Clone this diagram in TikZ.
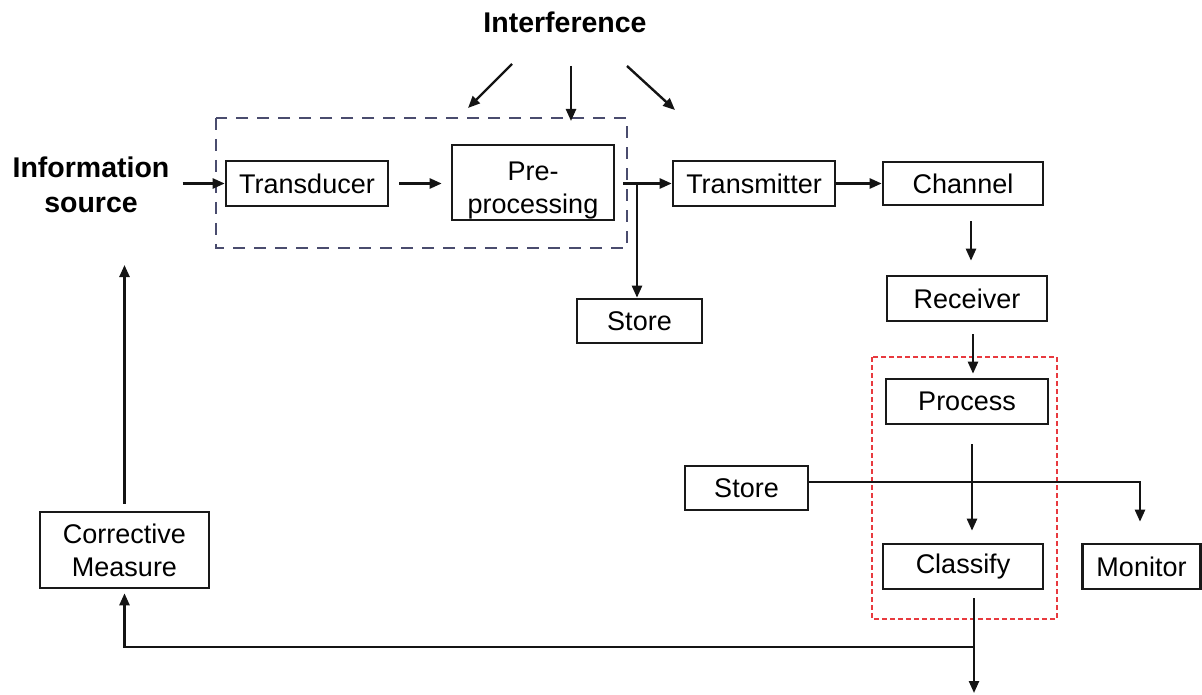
\documentclass[tikz,border=0pt]{standalone}
\usepackage{fontspec}
\setmainfont{Liberation Sans}
\usetikzlibrary{arrows.meta}
\definecolor{groupblue}{HTML}{4A4C6E}
\definecolor{groupred}{HTML}{E83A3F}
\begin{document}
\begin{tikzpicture}[x=1pt,y=-1pt,
  box/.style={draw=black!90, line width=2.6pt, fill=white, inner sep=0pt,
    align=center, font=\fontsize{27}{33}\selectfont, text=black},
  lbl/.style={align=center, inner sep=0pt,
    font=\fontsize{28.5}{35}\selectfont\bfseries, text=black},
  conn/.style={line width=2.4pt, draw=black!92},
  arr/.style={conn, -{Triangle[length=12pt,width=10pt]}},
  dashgroup/.style={draw=groupblue, line width=1.7pt, dash pattern=on 12pt off 9pt},
  dotgroup/.style={draw=groupred, line width=2.2pt, dash pattern=on 5pt off 3pt},
]
\useasboundingbox (0,0) rectangle (1202,695);

% grouping frames
\draw[dashgroup] (216,118) rectangle (627,248);
\draw[dotgroup] (872,357) rectangle (1057,619);

% labels
\node[lbl] (intf) at (565,22) {Interference};
\node[lbl] (src) at (91,185) {Information\\source};

% processing blocks
\node[box, minimum width=162pt, minimum height=45pt] (trans) at (307,183.5) {Transducer};
\node[box, minimum width=162pt, minimum height=75pt] (pre) at (533,182.5)
  {\raisebox{-7.5pt}[\height][\depth]{\begin{tabular}{@{}c@{}}Pre-\\processing\end{tabular}}};
\node[box, minimum width=125pt, minimum height=44pt] (store1) at (639.5,321) {Store};
\node[box, minimum width=162pt, minimum height=45pt] (tx) at (754,183.5) {Transmitter};
\node[box, minimum width=160pt, minimum height=43pt] (ch) at (963,183.5) {Channel};
\node[box, minimum width=160pt, minimum height=45pt] (rx) at (967,298.5) {Receiver};
\node[box, minimum width=162pt, minimum height=45pt] (proc) at (967,401.5) {Process};
\node[box, minimum width=123pt, minimum height=44pt] (store2) at (746.5,488) {Store};
\node[box, minimum width=160pt, minimum height=45pt] (cls) at (963,566.5) {Classify};
\node[box, minimum width=118pt, minimum height=45pt] (mon) at (1141.5,566.5) {Monitor};
\node[box, minimum width=169pt, minimum height=76pt] (corr) at (124.5,550) {Corrective\\Measure};

% free ends and junctions
\coordinate (iL0) at (512,64);  \coordinate (iL1) at (468,108);
\coordinate (iM0) at (571,66);  \coordinate (iM1) at (571,121);
\coordinate (iR0) at (627,66);  \coordinate (iR1) at (675,110);
\coordinate (br) at (637,183.5);
\coordinate (outB) at (974,693);
\coordinate (jn) at (974,647);
\coordinate (srcin) at (124.5,265);

% interference
\draw[arr] (iL0) -- (iL1);
\draw[arr] (iM0) -- (iM1);
\draw[arr] (iR0) -- (iR1);

% forward chain
\draw[arr, shorten <=13pt] (src.east |- trans.west) -- (trans.west);
\draw[arr, shorten <=10pt, shorten >=9pt] (trans.east) -- (pre.west |- trans.east);
\draw[arr, shorten <=8pt] (pre.east |- tx.west) -- (tx.west);
\draw[arr] (br) -- (br |- store1.north);
\draw[arr] (tx.east) -- (ch.west);
\draw[arr, shorten <=15pt, shorten >=14pt] ([xshift=8pt]ch.south) -- ([xshift=8pt]ch.south |- rx.north);
\draw[arr, shorten <=12pt, shorten >=4pt] ([xshift=6pt]rx.south) -- ([xshift=6pt]rx.south |- proc.north);
\draw[arr, shorten <=19pt, shorten >=12pt] ([xshift=5pt]proc.south) -- ([xshift=5pt]proc.south |- cls.north);
\draw[arr, shorten >=21pt] ([yshift=6pt]store2.east) -| ([xshift=-1.5pt]mon.north);
\draw[arr, shorten <=8pt] (cls.south -| outB) -- (outB);

% feedback path
\draw[arr, shorten >=4pt] (jn) -| (corr.south);
\draw[arr, shorten <=7pt] (corr.north) -- (srcin);
\end{tikzpicture}
\end{document}
